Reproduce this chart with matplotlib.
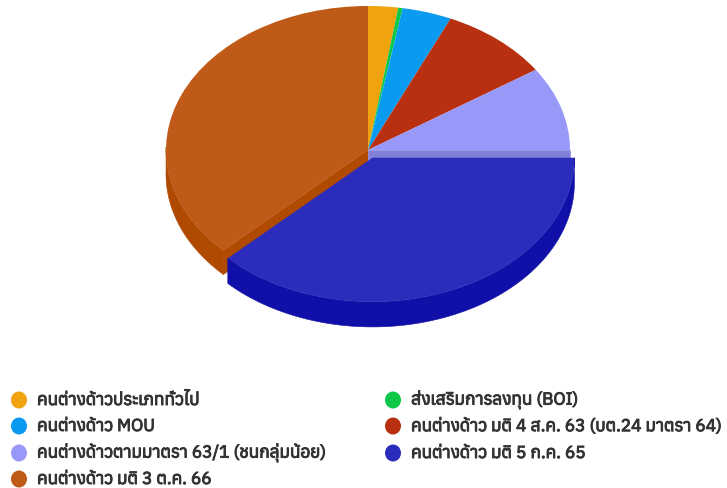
import matplotlib
matplotlib.use("Agg")
import matplotlib.pyplot as plt
import matplotlib.patheffects as pe
from matplotlib import font_manager as fm
from matplotlib.patches import Polygon, Ellipse
import numpy as np

# Data
labels = ["คนต่างด้าวประเภททั่วไป", "ส่งเสริมการลงทุน (BOI)", "คนต่างด้าว MOU",
          "คนต่างด้าว มติ 4 ส.ค. 63 (บต.24 มาตรา 64)", "คนต่างด้าวตามมาตรา 63/1 (ชนกลุ่มน้อย)",
          "คนต่างด้าว มติ 5 ก.ค. 65", "คนต่างด้าว มติ 3 ต.ค. 66"]
values = [2.4, 0.35, 3.95, 8.9, 9.4, 37.7, 37.3]
colors = ["#F0A30F", "#0FC84A", "#0A9AF0", "#B83010", "#9898F8", "#2C2CBC", "#C05A18"]
rim_navy = "#1010A8"
rim_brown = "#B04A00"
wall_peri = "#8080D8"

W, H = 727, 488
fig = plt.figure(figsize=(W/100, H/100), dpi=100, facecolor="white")

# fonts having Thai glyphs
thai = []
for f in fm.fontManager.ttflist:
    try:
        if 0x0E04 in fm.get_font(f.fname).get_charmap():
            thai.append(f.name)
    except Exception:
        pass
thai = sorted(set(thai))
fam = (thai + ["DejaVu Sans"]) if thai else ["DejaVu Sans"]

# pie axes: box of the ellipse, pixels
cx, cy, rx, ry, depth = 368, 150, 202, 144, 24
ax = fig.add_axes([(cx-rx)/W, 1-(cy+ry)/H, 2*rx/W, 2*ry/H])
d = depth/ry
pull = 0.058

explode = [0, 0, 0, 0, 0, pull, 0]
wedges, _ = ax.pie(values, colors=colors, startangle=90, counterclock=False, radius=1,
                   explode=explode, wedgeprops=dict(linewidth=0))
ax.set_aspect("auto")
ax.set_xlim(-1, 1)
ax.set_ylim(-1, 1)
for w in wedges:
    w.set_clip_on(False)
    w.set_zorder(5)

edges = np.cumsum([0] + values) / sum(values) * 2*np.pi
def pt(t, c=(0, 0)):
    return np.column_stack([c[0] + np.sin(t), c[1] + np.cos(t)])

def add(poly, color, z):
    ax.add_patch(Polygon(poly, closed=True, fc=color, ec=color, lw=0.4, zorder=z, clip_on=False))

# brown slice rim and cut wall
a0, a1 = edges[6], edges[7]
t = np.linspace(a0, min(a1, 1.5*np.pi+0.02), 60)
p = pt(t)
add(np.vstack([p, (p - [0, d])[::-1]]), rim_brown, 1)
add(np.array([[0, 0], pt(np.array([a0]))[0], pt(np.array([a0]))[0] - [0, d], [0, -d]]), rim_brown, 2)

# periwinkle cut wall
a = edges[5]
add(np.array([[0, 0], pt(np.array([a]))[0], pt(np.array([a]))[0] - [0, d], [0, -d]]), wall_peri, 2)

# navy slice rim
a0, a1 = edges[5], edges[6]
mid = (a0 + a1)/2
c = (pull*np.sin(mid), pull*np.cos(mid))
t = np.linspace(a0, a1, 100)
p = pt(t, c)
add(np.vstack([p, (p - [0, d*1.05])[::-1]]), rim_navy, 3)

# legend
lax = fig.add_axes([0, 0, 1, 1], facecolor="none")
lax.set_xlim(0, W)
lax.set_ylim(H, 0)
lax.axis("off")
col_x = [19, 393]
row_y = [400, 426, 453, 479]
for i, (lab, col) in enumerate(zip(labels, colors)):
    if i == 6:
        x, y = col_x[0], row_y[3]
    else:
        x, y = col_x[i % 2], row_y[i//2]
    lax.add_patch(Ellipse((x, y), 16, 17, fc=col, ec="none"))
    lax.text(x + 18, y, lab, fontsize=12.4, color="#333333",
             va="center", ha="left", family=fam,
             path_effects=[pe.withStroke(linewidth=0.7, foreground="#333333")])

fig.savefig("out.png", dpi=100)
